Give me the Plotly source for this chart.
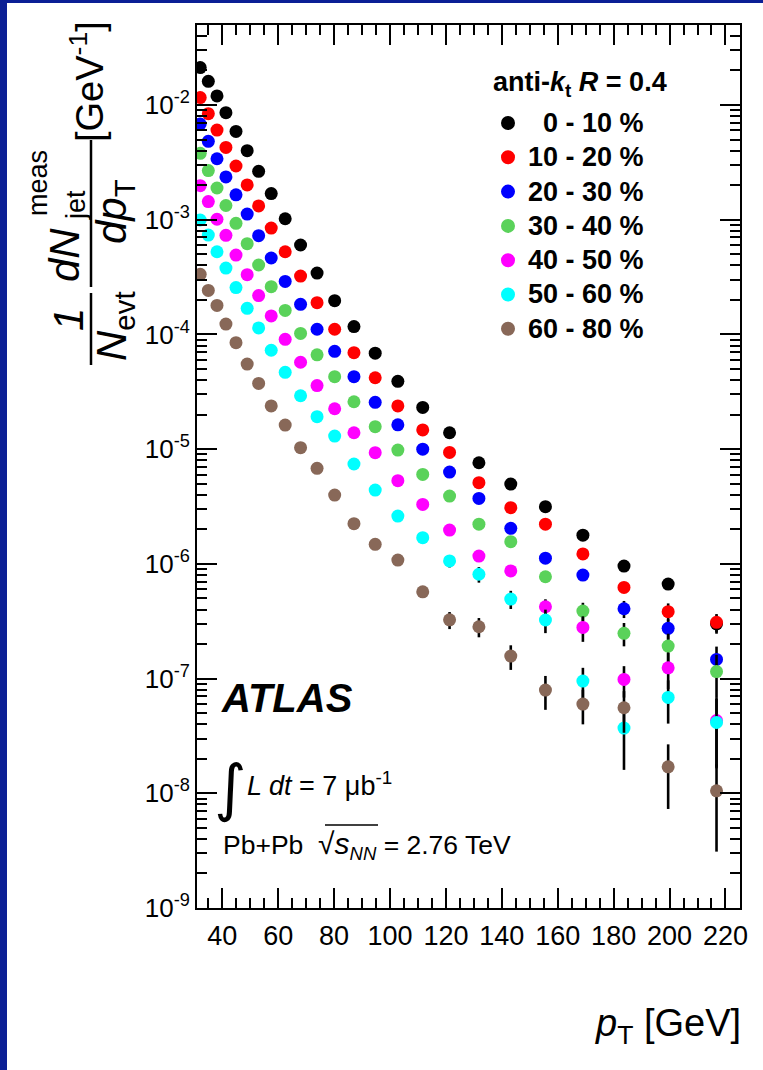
import plotly.graph_objects as go

# ---------------- data ----------------
pt = [32.1, 35.0, 38.1, 41.3, 44.9, 48.9, 53.0, 57.5, 62.5, 68.0, 73.9, 80.2,
      87.1, 94.7, 102.8, 111.7, 121.3, 131.8, 143.2, 155.6, 169.0, 183.7, 199.5, 216.8]

labels = ["0 - 10 %", "10 - 20 %", "20 - 30 %", "30 - 40 %",
          "40 - 50 %", "50 - 60 %", "60 - 80 %"]
colors = ["#000000", "#ff0000", "#0000ff", "#5ad25a", "#ff00ff", "#00ffff", "#886858"]

c0_10 = [2.12e-2, 1.61e-2, 1.20e-2, 8.57e-3, 5.89e-3, 4.00e-3, 2.64e-3, 1.69e-3, 1.02e-3, 6.02e-4,
         3.43e-4, 1.97e-4, 1.17e-4, 6.86e-5, 3.90e-5, 2.31e-5, 1.39e-5, 7.61e-6, 4.96e-6, 3.15e-6,
         1.78e-6, 9.57e-7, 6.67e-7, 3.00e-7]
c10_20 = [1.16e-2, 8.40e-3, 6.05e-3, 4.27e-3, 2.94e-3, 2.01e-3, 1.32e-3, 8.46e-4, 5.26e-4, 3.23e-4,
          1.89e-4, 1.11e-4, 6.93e-5, 4.19e-5, 2.38e-5, 1.47e-5, 9.37e-6, 5.10e-6, 3.09e-6, 2.22e-6,
          1.22e-6, 6.23e-7, 3.83e-7, 3.09e-7]
c20_30 = [6.83e-3, 4.82e-3, 3.40e-3, 2.36e-3, 1.65e-3, 1.12e-3, 7.26e-4, 4.64e-4, 2.90e-4, 1.83e-4,
          1.11e-4, 7.12e-5, 4.28e-5, 2.56e-5, 1.63e-5, 1.00e-5, 6.31e-6, 3.72e-6, 2.04e-6, 1.12e-6,
          7.99e-7, 4.06e-7, 2.74e-7, 1.47e-7]
c30_40 = [3.79e-3, 2.68e-3, 1.89e-3, 1.33e-3, 9.30e-4, 6.18e-4, 4.03e-4, 2.61e-4, 1.62e-4, 1.02e-4,
          6.64e-5, 4.28e-5, 2.59e-5, 1.57e-5, 9.82e-6, 6.02e-6, 3.90e-6, 2.22e-6, 1.56e-6, 7.72e-7,
          3.88e-7, 2.48e-7, 1.92e-7, 1.15e-7]
c40_50 = [1.98e-3, 1.44e-3, 1.01e-3, 7.31e-4, 4.92e-4, 3.32e-4, 2.18e-4, 1.45e-4, 9.06e-5, 5.72e-5,
          3.58e-5, 2.25e-5, 1.39e-5, 9.31e-6, 5.31e-6, 3.30e-6, 1.97e-6, 1.17e-6, 8.68e-7, 4.23e-7,
          2.79e-7, 9.83e-8, 1.24e-7, 4.30e-8]
c50_60 = [9.94e-4, 7.35e-4, 5.26e-4, 3.79e-4, 2.56e-4, 1.69e-4, 1.14e-4, 7.28e-5, 4.67e-5, 2.92e-5,
          1.92e-5, 1.30e-5, 7.42e-6, 4.40e-6, 2.61e-6, 1.69e-6, 1.06e-6, 8.12e-7, 4.93e-7, 3.24e-7,
          9.51e-8, 3.70e-8, 6.85e-8, 4.15e-8]
c60_80 = [3.34e-4, 2.42e-4, 1.79e-4, 1.23e-4, 8.47e-5, 5.52e-5, 3.74e-5, 2.38e-5, 1.62e-5, 1.03e-5,
          6.80e-6, 3.98e-6, 2.24e-6, 1.48e-6, 1.08e-6, 5.71e-7, 3.25e-7, 2.83e-7, 1.57e-7, 7.94e-8,
          5.99e-8, 5.57e-8, 1.70e-8, 1.05e-8]

z = 0.0
e0_10 = [z] * 22 + [5.3e-8, 5.4e-8]
e10_20 = [z] * 21 + [3.0e-8, 6.9e-8, 5.6e-8]
e20_30 = [z] * 20 + [4.0e-8, 6.9e-8, 5.5e-8, 4.3e-8]
e30_40 = [z] * 19 + [7.7e-8, 7.0e-8, 5.7e-8, 5.4e-8, 4.6e-8]
e40_50 = [z] * 18 + [6.0e-8, 6.8e-8, 7.0e-8, 3.0e-8, 4.3e-8, 2.6e-8]
e50_60 = [z] * 15 + [1.5e-7, 1.3e-7, 1.26e-7, 8.9e-8, 7.5e-8, 2.9e-8, 2.1e-8, 2.8e-8, 2.5e-8]
e60_80 = [z] * 15 + [5.7e-8, 5.5e-8, 5.4e-8, 3.8e-8, 2.6e-8, 2.0e-8, 2.2e-8, 9.7e-9, 7.4e-9]

series = [c0_10, c10_20, c20_30, c30_40, c40_50, c50_60, c60_80]
errors = [e0_10, e10_20, e20_30, e30_40, e40_50, e50_60, e60_80]

ytickvals = [1e-9, 1e-8, 1e-7, 1e-6, 1e-5, 1e-4, 1e-3, 1e-2]
yticktext = ["10<sup>-9</sup>", "10<sup>-8</sup>", "10<sup>-7</sup>", "10<sup>-6</sup>",
             "10<sup>-5</sup>", "10<sup>-4</sup>", "10<sup>-3</sup>", "10<sup>-2</sup>"]

# ---------------- layout geometry ----------------
W, H = 763, 1070
L, R, T, B = 197, 23, 25, 162
PW, PH = W - L - R, H - T - B
FONT = "Liberation Sans, Arial, Helvetica, sans-serif"


def px(x):
    return (x - L) / PW


def py(y):
    return (H - B - y) / PH


fig = go.Figure()
for vals, errs, name, col in zip(series, errors, labels, colors):
    fig.add_trace(go.Scatter(
        x=pt, y=vals, mode="markers", name=name,
        marker=dict(color=col, size=13, line=dict(width=0)),
        error_y=dict(type="data", array=errs, visible=True, color="black",
                     thickness=2.6, width=0),
    ))

fig.update_layout(
    width=W, height=H,
    margin=dict(l=L, r=R, t=T, b=B, autoexpand=False),
    paper_bgcolor="white", plot_bgcolor="white",
    font=dict(family=FONT, color="black"),
    showlegend=False,
)

fig.update_xaxes(
    range=[30.95, 225.2], tick0=0, dtick=20,
    showline=True, linewidth=2, linecolor="black", mirror="allticks",
    ticks="inside", ticklen=20, tickwidth=1.5, tickcolor="black",
    minor=dict(ticks="inside", ticklen=10, tickwidth=1.5, tickcolor="black", dtick=5, tick0=0),
    showgrid=False, zeroline=False,
    tickfont=dict(family=FONT, size=27, color="black"), ticklabelstandoff=3,
)
fig.update_yaxes(
    type="log", range=[-9, -1.3025],
    tickvals=ytickvals, ticktext=yticktext,
    showline=True, linewidth=2, linecolor="black", mirror="allticks",
    ticks="inside", ticklen=20, tickwidth=1.5, tickcolor="black",
    minor=dict(ticks="inside", ticklen=10, tickwidth=1.5, tickcolor="black", dtick="D1"),
    showgrid=False, zeroline=False,
    tickfont=dict(family=FONT, size=26, color="black"), ticklabelstandoff=0,
)

ann = []
shapes = []


def add_text(text, x, y, size, xanchor="center", yanchor="middle", angle=0, family=FONT, weight="normal"):
    ann.append(dict(text=text, x=px(x), y=py(y), xref="paper", yref="paper",
                    xanchor=xanchor, yanchor=yanchor, showarrow=False, textangle=angle,
                    font=dict(family=family, size=size, color="black", weight=weight)))


# y-axis title built from pieces (rotated)
add_text("[GeV<sup>-1</sup>]", 87, 82, 38, angle=-90)
add_text("<i>dN</i>", 64, 255, 42, angle=-90)
add_text("meas", 38, 183, 27, angle=-90)
add_text("jet", 76, 205, 27, angle=-90)
add_text("<i>dp</i><sub>T</sub>", 114, 212, 42, angle=-90)
add_text("<i>1</i>", 68, 320, 42, angle=-90)
add_text("<i>N</i><sub>evt</sub>", 114, 326, 42, angle=-90)

# x-axis title
add_text("<i>p</i><sub>T</sub> [GeV]", 743, 1026, 38, xanchor="right")

# labels inside the frame
add_text("<b><i>ATLAS</i></b>", 219, 698, 40, xanchor="left")
add_text("\u222b", 230, 787, 62, family="DejaVu Sans")
add_text("<i>L dt</i> = 7 \u03bcb<sup>-1</sup>", 245, 784, 27, xanchor="left")
add_text("Pb+Pb\u00a0\u00a0<span style='font-size:30px'>\u221a</span>"
         "<span style='font-size:30px'><i>s</i></span><sub><i>NN</i></sub> = 2.76 TeV",
         221, 845, 26.5, xanchor="left")

# legend (drawn by hand to match the row spacing)
add_text("anti-<i>k</i><sub>t</sub> <i>R</i> = 0.4", 491, 84, 27, xanchor="left", weight="bold")
leg_rows = [123, 157.3, 191.6, 225.9, 260.2, 294.5, 328.8]
for name, col, yy in zip(labels, colors, leg_rows):
    add_text(name, 646, yy, 27, xanchor="right", weight="bold")
    shapes.append(dict(type="circle", xref="paper", yref="paper",
                       x0=px(508 - 7), x1=px(508 + 7), y0=py(yy + 7), y1=py(yy - 7),
                       fillcolor=col, line=dict(width=0)))

fig.update_layout(annotations=ann)

shapes += [
    # fraction bars of the y title
    dict(type="line", xref="paper", yref="paper", x0=px(91), x1=px(91), y0=py(140), y1=py(287),
         line=dict(color="black", width=2.5)),
    dict(type="line", xref="paper", yref="paper", x0=px(91), x1=px(91), y0=py(293), y1=py(365),
         line=dict(color="black", width=2.5)),
    # blue slide border
    dict(type="rect", xref="paper", yref="paper", x0=px(0), x1=px(7), y0=py(H), y1=py(0),
         fillcolor="#0b1f95", line=dict(width=0), layer="above"),
    dict(type="rect", xref="paper", yref="paper", x0=px(0), x1=px(W), y0=py(3), y1=py(0),
         fillcolor="#0b1f95", line=dict(width=0), layer="above"),
    # overline of the square root
    dict(type="line", xref="paper", yref="paper", x0=px(325), x1=px(378), y0=py(825), y1=py(825),
         line=dict(color="black", width=1.5)),
]
fig.update_layout(shapes=shapes)

fig.write_html(
    "out.html",
    config={"displayModeBar": False},
    post_script="document.body.style.margin='0px';document.body.style.overflow='hidden';",
)
